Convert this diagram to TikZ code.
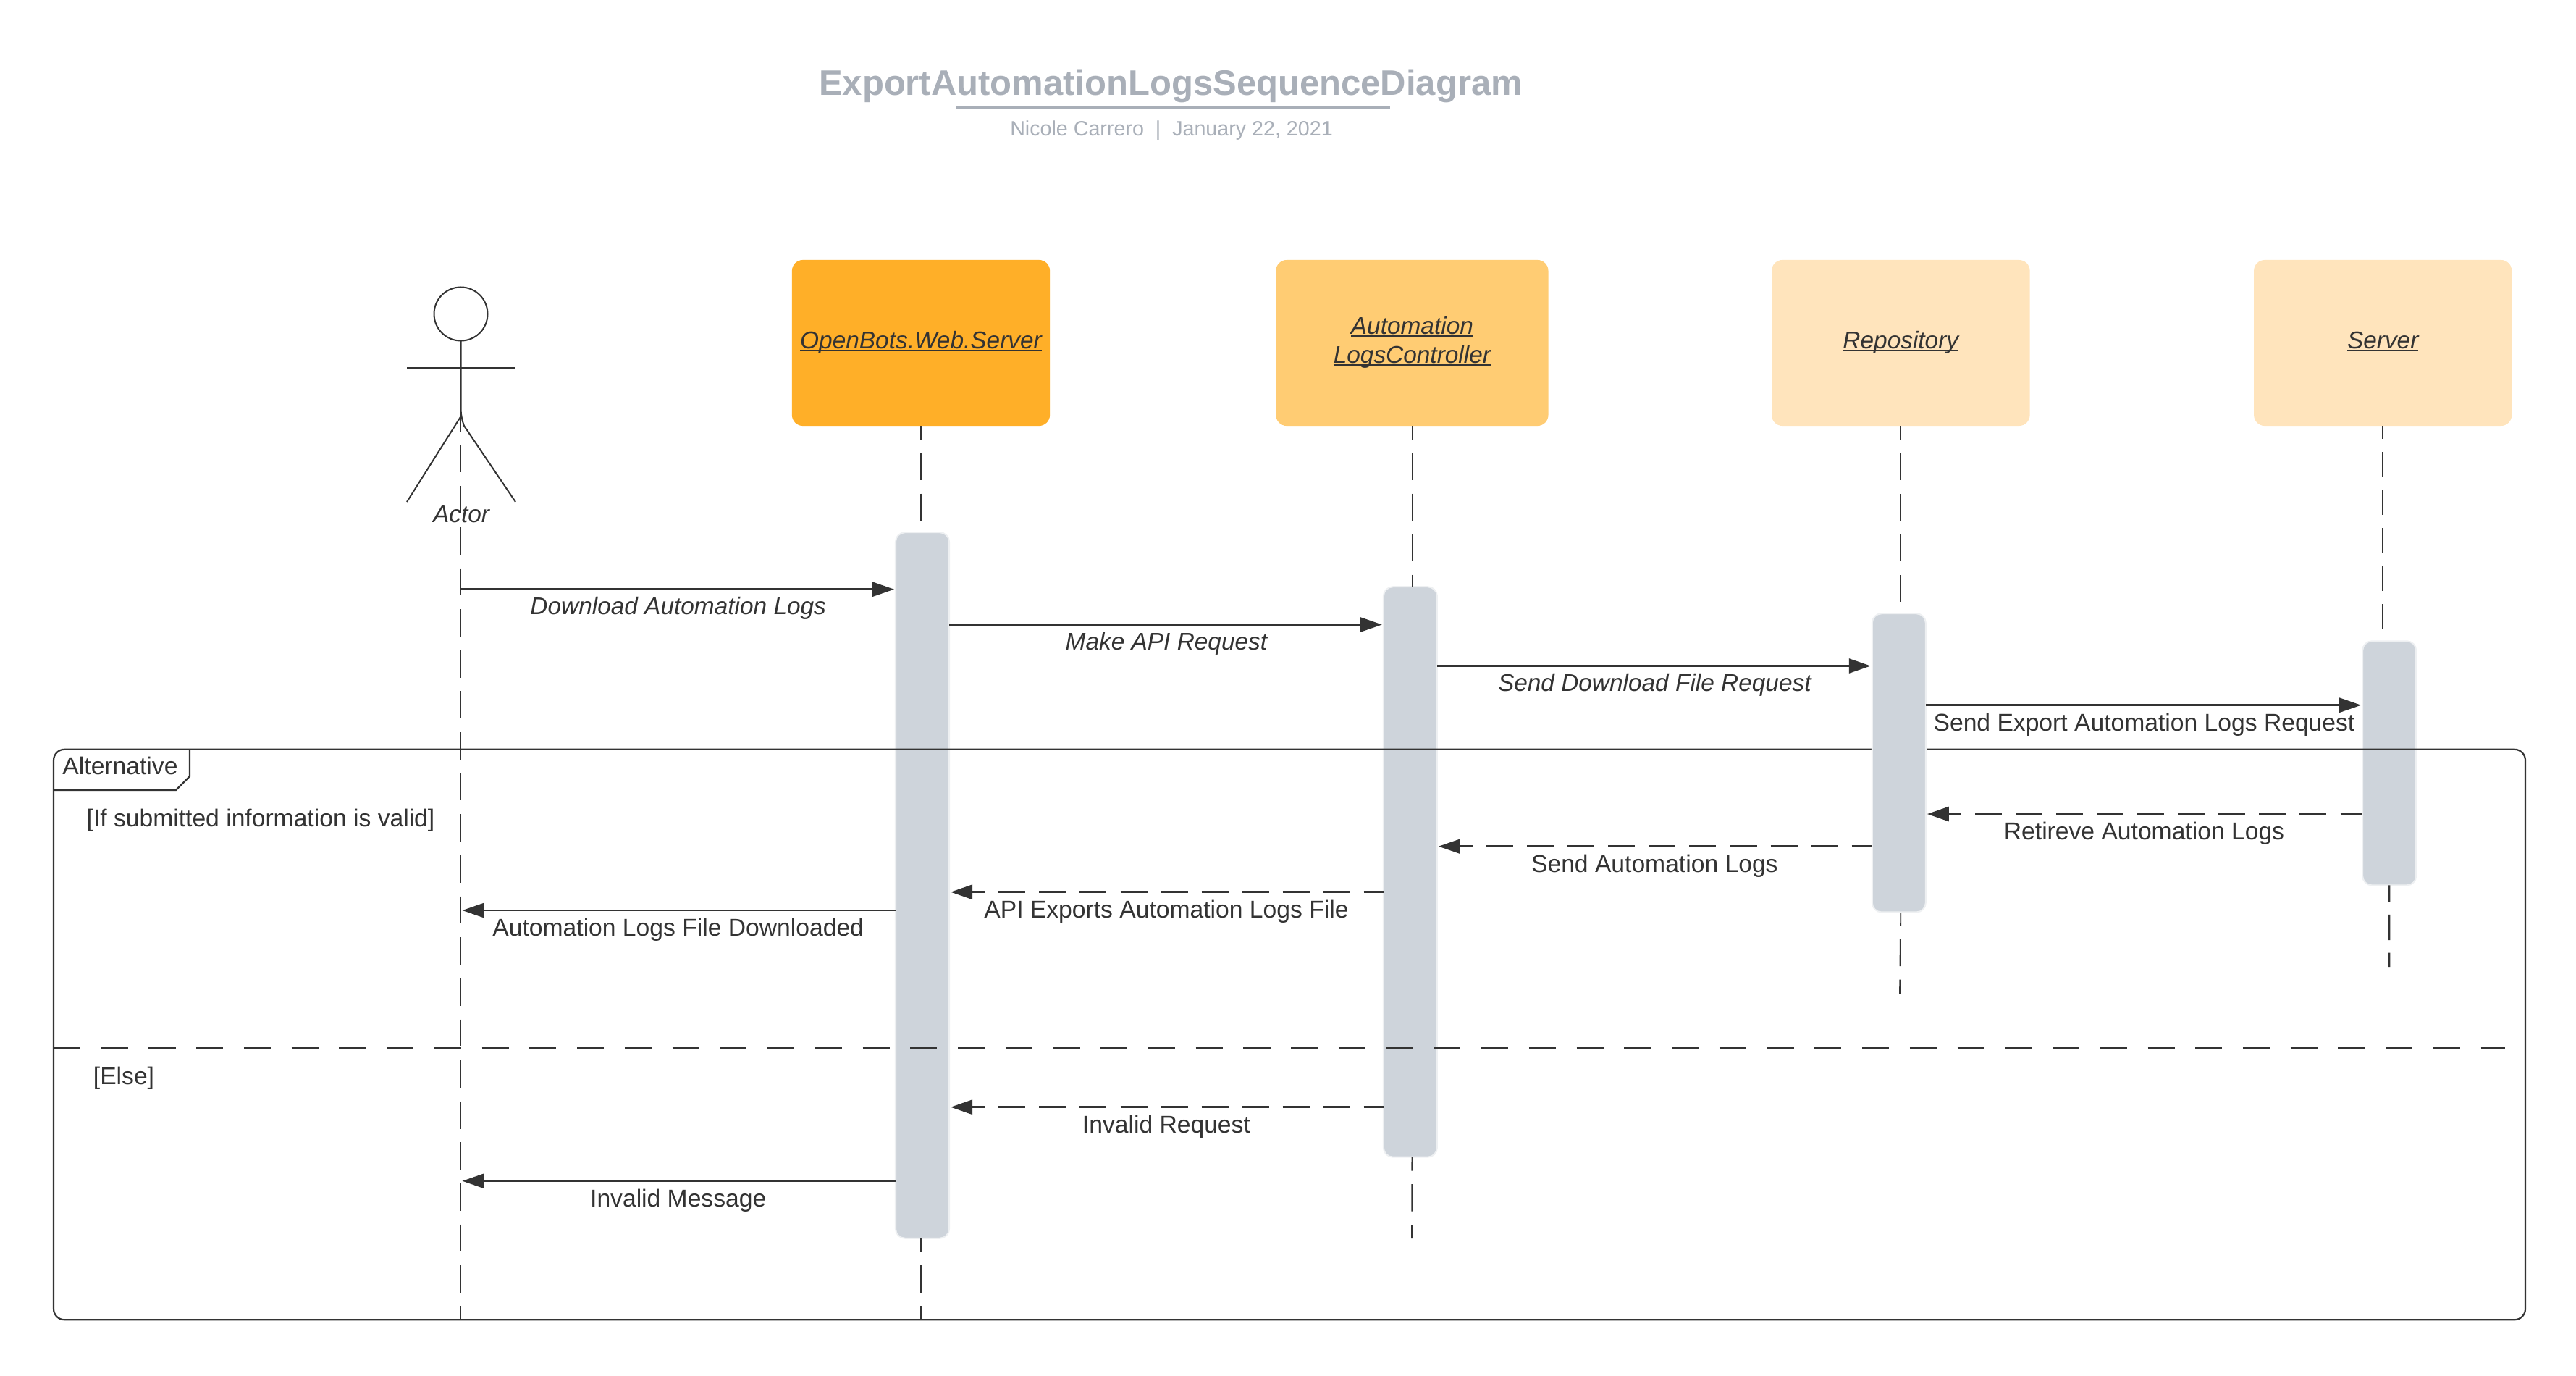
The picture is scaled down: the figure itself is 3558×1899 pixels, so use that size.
\documentclass[tikz,border=0pt]{standalone}
\usepackage{fontspec}
\setmainfont{Liberation Sans}
\usetikzlibrary{positioning,arrows.meta}
\definecolor{inkgray}{HTML}{333333}
\definecolor{titlegray}{HTML}{A9AFB8}
\definecolor{barfill}{HTML}{CED4DB}
\definecolor{baredge}{HTML}{EEF0F2}
\definecolor{headone}{HTML}{FFAF28}
\definecolor{headtwo}{HTML}{FFCC73}
\definecolor{headthree}{HTML}{FFE4BC}
\newcommand{\ulabel}[1]{\setbox0=\hbox{\fontsize{9.5}{11.4}\selectfont\itshape #1}\rlap{\rule[-0.04cm]{\wd0}{0.025cm}}\rule[-0.09cm]{0pt}{0.33cm}\box0}

\begin{document}
\begin{tikzpicture}[x=0.01cm,y=-0.01cm,text=inkgray,font=\fontsize{9.57}{11.4}\selectfont,
						lifehead/.style={rectangle,rounded corners=1.5mm,inner sep=0pt,outer sep=0pt,minimum height=22.9mm,align=center},
						actbar/.style={rectangle,rounded corners=1.3mm,draw=baredge,fill=barfill,line width=0.02cm,inner sep=0pt,outer sep=0pt,minimum width=7.4mm},
						lifeline/.style={draw=inkgray,line width=0.018cm,dash pattern=on 0.375cm off 0.185cm,dash phase=0.185cm},
						srvline/.style={draw=inkgray,line width=0.024cm,dash pattern=on 0.35cm off 0.175cm,dash phase=0.17cm},
						figure/.style={draw=inkgray,line width=0.02cm},
						msg/.style={draw=inkgray,line width=0.027cm,-{Triangle[length=0.3cm,width=0.2cm]},shorten >=0.02cm},
						reply/.style={draw=inkgray,line width=0.027cm,{Triangle[length=0.3cm,width=0.2cm]}-,shorten <=0.02cm,dash pattern=on 0.37cm off 0.19cm,dash phase=0.19cm},
						msgtext/.style={inner sep=0pt,text height=0.25cm,text depth=0pt},
						msgital/.style={msgtext,font=\fontsize{9.5}{11.4}\selectfont\itshape},
						plain/.style={inner sep=0pt,anchor=base},
						altline/.style={draw=inkgray,line width=0.022cm}]
		\useasboundingbox (0,0) rectangle (3558,1899);

		\node[plain,text=titlegray,font=\fontsize{13.93}{16}\selectfont\bfseries]	(title)		at (1617,131)	{ExportAutomationLogsSequenceDiagram};
		\node[plain,text=titlegray,font=\fontsize{8.15}{9.5}\selectfont]			(subtitle)	at (1618,187)	{Nicole Carrero\ \ |\ \ January 22, 2021};
		\coordinate	(ruleleft)	at (1320,149);
		\coordinate	(ruleright)	at (1920,149);
		\draw[draw=titlegray,line width=0.04cm] (ruleleft) -- (ruleright);

		\node[lifehead,fill=headone,minimum width=35.6mm]									(web)		at (1272,473.5)	{\ulabel{OpenBots.Web.Server}};
		\node[lifehead,fill=headtwo,minimum width=37.6mm,node distance=31.2mm,right=of web]		(ctrl)		{\ulabel{Automation}\\\ulabel{LogsController}};
		\node[lifehead,fill=headthree,minimum width=35.64mm,node distance=30.83mm,right=of ctrl]	(repo)		{\ulabel{Repository}};
		\node[lifehead,fill=headthree,minimum width=35.6mm,node distance=30.93mm,right=of repo]		(srv)		{\ulabel{Server}};

		\node[actbar,minimum height=97.4mm,node distance=14.7mm,below=of web,xshift=0.2mm]		(webbar)	{};
		\node[actbar,minimum height=78.7mm,node distance=22.2mm,below=of ctrl,xshift=-0.25mm]		(ctrlbar)	{};
		\node[actbar,minimum height=33.7mm,node distance=29.7mm,below=of srv,xshift=0.9mm]		(srvbar)	{};

		\coordinate	(webend)	at (1272,1822);
		\coordinate	(ctrlend)	at (1950,1710);
		\coordinate	(repoend)	at (2624,1372);
		\coordinate	(srvend)	at (3300,1335);
		\coordinate	(bodyend)	at (636,558);
		\coordinate	(actorend)	at (636,1822);

		\draw[lifeline,dash pattern=on 0.377cm off 0.189cm,dash phase=0cm] (bodyend) -- (actorend);
		\draw[lifeline] (web.south) -- (web.south |- webbar.north);
		\draw[lifeline] (web.south |- webbar.south) -- (webend);
		\draw[lifeline] (ctrl.south) -- (ctrl.south |- ctrlbar.north);
		\draw[lifeline] (ctrl.south |- ctrlbar.south) -- (ctrlend);
		\draw[lifeline] (repo.south) -- (repo.south |- 0,847);
		\draw[lifeline] (repo.south |- 0,1259) -- (repoend);
		\draw[srvline] (srv.south) -- (srv.south |- srvbar.north);
		\draw[srvline,dash phase=0.12cm] (srvbar.south) -- (srvend);

		\node[circle,draw=inkgray,line width=0.02cm,inner sep=0pt,outer sep=0pt,minimum size=7.4mm]	(actor)		at (636.5,433.5)	{};
		\node[plain,font=\fontsize{9.5}{11.4}\selectfont\itshape]									(actorname)	at (637,721)		{Actor};
		\draw[figure] (actor.south) -- (636.5,563) .. controls (636.5,572) and (638,580) .. (641,588) -- (712,693);
		\draw[figure] (562,508) -- (712,508);
		\draw[figure] (636.5,575) -- (562,693);

		\node[rectangle,draw=inkgray,line width=0.022cm,rounded corners=1.5mm,inner sep=0pt,outer sep=0pt,minimum width=341.2mm,minimum height=78.7mm]	(altframe)	at (1781,1428.5)	{};
		\draw[altline] (262,1035) -- (262,1072) -- (243,1091) -- (75,1091);
		\coordinate	(elseend)	at (3460,1447);
		\draw[altline,dash pattern=on 0.37cm off 0.287cm] (altframe.west |- elseend) -- (elseend);
		\node[plain]	(alttext)	at (166,1069)	{Alternative};
		\node[plain]	(ifguard)	at (360,1141)	{[If submitted information is valid]};
		\node[plain]	(elseguard)	at (171,1497)	{[Else]};

		\node[actbar,minimum height=41.2mm,node distance=25.9mm,below=of repo,xshift=-0.25mm]		(repobar)	{};

		\coordinate	(r1)	at (0,813.7);
		\coordinate	(r2)	at (0,862.5);
		\coordinate	(r3)	at (0,919.5);
		\coordinate	(r4)	at (0,973.7);
		\coordinate	(r5)	at (0,1124);
		\coordinate	(r6)	at (0,1168.7);
		\coordinate	(r7)	at (0,1231.7);
		\coordinate	(r8)	at (0,1257);
		\coordinate	(r9)	at (0,1528.7);
		\coordinate	(r10)	at (0,1630.7);

		\draw[msg] (actor.south |- r1) -- (webbar.west |- r1) node[msgital,midway,below=0.85mm] (m1) {Download Automation Logs};
		\draw[msg] (webbar.east |- r2) -- (ctrlbar.west |- r2) node[msgital,midway,below=0.85mm] (m2) {Make API Request};
		\draw[msg] (ctrlbar.east |- r3) -- (repobar.west |- r3) node[msgital,midway,below=0.85mm] (m3) {Send Download File Request};
		\draw[msg] (repobar.east |- r4) -- (srvbar.west |- r4) node[msgtext,midway,below=0.9mm] (m4) {Send Export Automation Logs Request};
		\draw[reply] (repobar.east |- r5) -- (srvbar.west |- r5) node[msgtext,midway,below=0.9mm] (m5) {Retireve Automation Logs};
		\draw[reply] (ctrlbar.east |- r6) -- (repobar.west |- r6) node[msgtext,midway,below=0.9mm] (m6) {Send Automation Logs};
		\draw[reply] (webbar.east |- r7) -- (ctrlbar.west |- r7) node[msgtext,midway,below=0.9mm] (m7) {API Exports Automation Logs File};
		\draw[msg] (webbar.west |- r8) -- (actor.south |- r8) node[msgtext,midway,below=0.9mm] (m8) {Automation Logs File Downloaded};
		\draw[reply] (webbar.east |- r9) -- (ctrlbar.west |- r9) node[msgtext,midway,below=0.9mm] (m9) {Invalid Request};
		\draw[msg] (webbar.west |- r10) -- (actor.south |- r10) node[msgtext,midway,below=0.9mm] (m10) {Invalid Message};
	\end{tikzpicture}
\end{document}
